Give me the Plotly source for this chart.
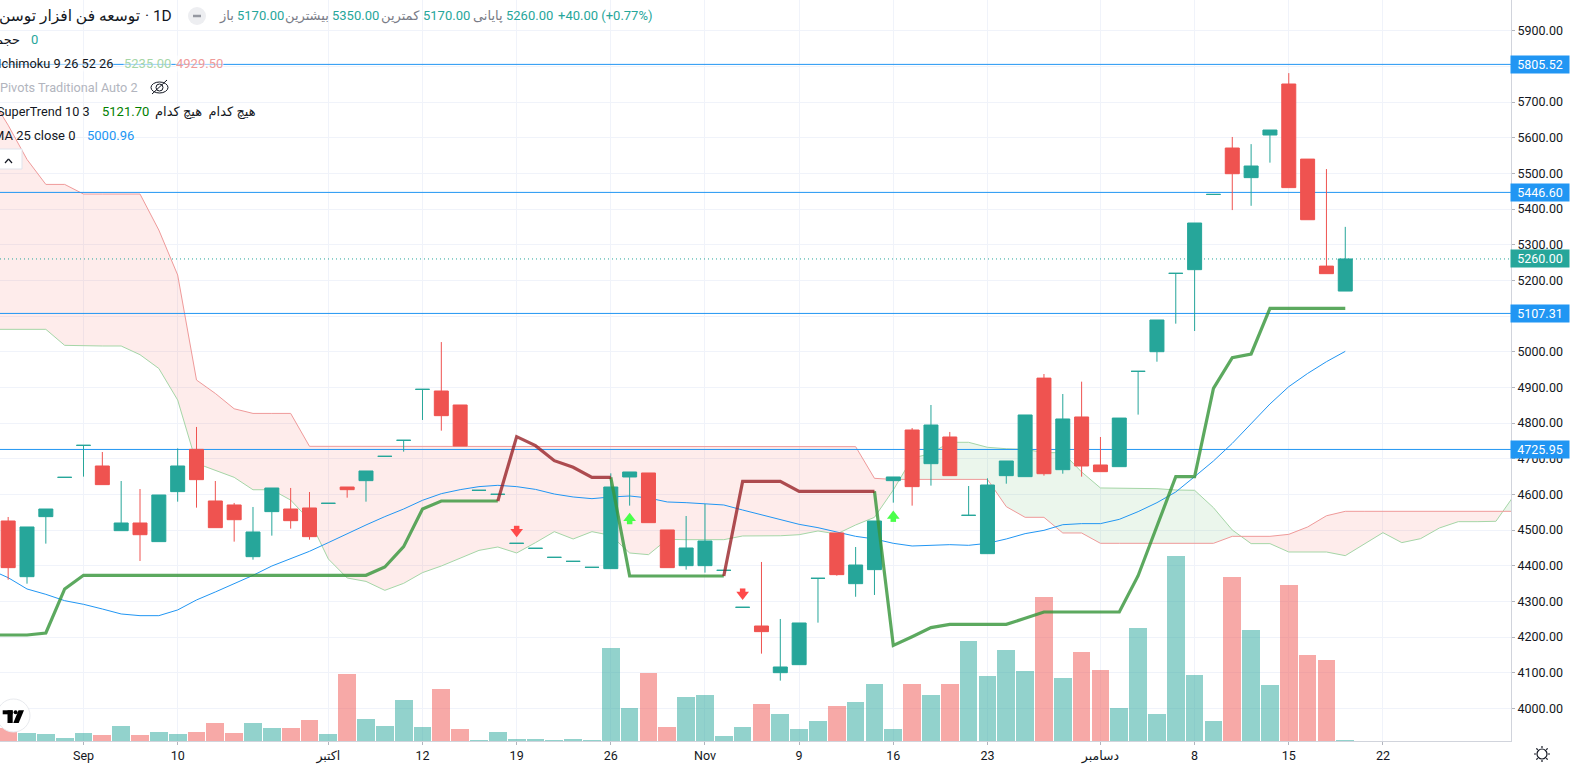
import plotly.graph_objects as go
import math

W, H = 1511, 741
FONT = "Roboto, 'Noto Sans', 'DejaVu Sans', sans-serif"
TEAL, RED, BLUE = "#26A69A", "#EF5350", "#2196F3"

# ---------- data ----------
first_bar = -4
opens = [4525.4,4369.3,4537.6,4647.7,4737.4,4679.6,4498.3,4519.8,4467.5,4607.7,4726.3,4581.5,4570.3,4425.4,4551.6,4559,4561.9,4574.9,4620.7,4638.5,4706.6,4751.5,4894.4,4889.8,4850.6,4611.3,4600.1,4462.7,4448.7,4423.4,4412.2,4395.4,4391.8,4648.8,4660,4500.2,4400.2,4400.2,4387,4283.3,4231,4100.2,4122.6,4364.6,4491.8,4349.7,4389,4638.5,4780.5,4686.1,4760.9,4541.2,4433.8,4652.5,4649.7,4926,4669.3,4817,4682.4,4677.7,4944.9,5000,5219.6,5230,5440.9,5571,5488,5607.5,5750.5,5540,5240,5170]
highs = [4536.6,4508.6,4559,4647.8,4737.5,4718.8,4637.5,4615,4598.3,4729,4789,4637.5,4576,4564.7,4617.9,4618,4606.7,4575,4620.7,4665.6,4706.7,4751.6,4894.5,5027,4850.6,4611.4,4600.2,4462.8,4448.8,4423.5,4412.3,4395.5,4659,4662.8,4660,4500.2,4539.4,4573,4387.1,4283.4,4410.5,4250.7,4239.5,4364.7,4491.8,4452.5,4525.4,4648.8,4786,4850.6,4775,4623.5,4645,4693.6,4822.6,4937.5,4881.4,4916,4760.9,4814,4945,5088.9,5219.7,5360.8,5441,5602,5582,5621.5,5781,5540,5512,5350]
lows = [4360.9,4349.7,4461.9,4647.7,4649.7,4627.3,4498.3,4413.3,4467.5,4579.6,4562.8,4506.7,4467.5,4417,4484.3,4504,4473,4574.9,4590.8,4579.6,4706.6,4719.8,4808.6,4778.6,4735.7,4611.3,4600.1,4462.7,4448.7,4423.4,4412.2,4395.4,4391.8,4568.4,4520.7,4394.6,4389,4380.6,4387,4283.3,4153.5,4077.8,4122.6,4240.4,4372,4313,4318,4576.8,4568.4,4624.5,4652.5,4541.2,4433.8,4630,4649.7,4652.5,4658,4649.7,4663.7,4677.7,4823.6,4972,5078.6,5058,5440.9,5397,5409,5530,5460,5370,5218.8,5170]
closes = [4394.6,4508.6,4559,4647.8,4737.5,4627.3,4519.8,4487,4598.3,4679.6,4641.3,4506.7,4529,4494.6,4617.9,4526.3,4481.5,4575,4613.2,4665.6,4706.7,4751.6,4894.5,4820.7,4735.7,4611.4,4600.2,4462.8,4448.8,4423.5,4412.3,4395.5,4620.7,4662.8,4520.7,4394.6,4449.7,4469.3,4387.1,4283.4,4215.2,4116.1,4239.5,4364.7,4375,4402,4525.4,4648.8,4621.7,4794.5,4652.5,4541.3,4626.3,4693.6,4822.6,4658,4811.4,4679.6,4663.7,4814,4945,5088.9,5219.7,5360.8,5441,5499,5520.6,5621.5,5460,5370,5218.8,5260]
volume = [12.7,8,7,3,8,6,15,6,9,7,9,18,8,18,13,13,21,7,67,22,15,41,14,52,12,1,9,2,2,1,2,1,93,33,68,14,44,46,5,14,37,27,12,20,35,39,57,12,57,46,57,100,65,91,70,144,63,89,71,33,113,27,185,66,20,164,111,56,156,86,81,1]

cloud_first = -5
lead_a = [5062.7,5062.7,5062.7,5062.7,5017.8,5016,5016,5016,4991.6,4953,4864.5,4687,4666.5,4647.8,4613,4613,4584,4528,4419,4365.6,4356,4331,4350.6,4380.6,4399.2,4421.7,4443,4452.5,4435.7,4464.7,4495.5,4475,4495.5,4485,4435.7,4431,4474,4473,4473,4473,4483.4,4483.4,4484,4487,4497.4,4489,4514.2,4535.7,4612.3,4701,4715,4746,4746,4732,4728,4726.3,4717,4717,4662.8,4618,4618,4618,4616,4612.3,4611.4,4562.8,4500.2,4461.9,4461.9,4438.5,4438.5,4438.5,4428.2,4460,4492.7,4464.7,4475.9,4505.8,4523.5,4523.5,4524.5,4600]
lead_b = [5720,5635,5539,5469,5469,5442,5442,5442,5442,5341,5215,4920.6,4883,4840,4827,4827,4827]+[4734.7]*29+[4733.8,4645]+[4642]*6+[4565.6,4535.7,4535.7,4491.8,4491.8]+[4462.8]*7+[4482.4,4482.4,4482.4,4488,4508.6,4540]+[4552.5]*10
ma_first = -5
sma25 = [4390,4366.5,4334.8,4319.8,4302,4291.8,4278.7,4264.7,4260,4260,4276,4304,4326.4,4349.7,4373,4399.2,4418.9,4440.4,4464.7,4489.9,4514.2,4537.6,4559,4583.4,4602,4613.2,4621.7,4625.4,4621.7,4614,4601,4592.7,4588,4592.7,4595.5,4589.9,4578.7,4576.8,4574,4570.3,4556.2,4542.2,4529.1,4516,4506.7,4494.6,4482.4,4475,4462.8,4455.3,4458.1,4459,4457.2,4462.8,4475,4489.9,4499.2,4515,4518,4518,4530,4551.6,4576.8,4606.7,4649.7,4693.6,4743,4799.2,4853.4,4902,4939,4972,5001]
supertrend = [4205.8,4205.8,4205.8,4211.4,4334.8]+[4373.1]*16+[4396.5,4453.5,4559,4581.5,4581.5,4581.5,4581.5,4761.8,4736.6,4694.5,4675.9,4647.8,4647.8]+[4371.2]*6+[4636.6]*3+[4608.6]*5+[4176.8,4201,4226.4,4235.7,4235.7,4235.7,4235.7,4252.5]+[4270.3]*5+[4372,4509,4649.7,4649.7,4897,4983,4993.6]+[5121.7]*5
st_up_spans = [(-5,22),(28,34),(42,67)]
st_down_spans = [(22,28),(34,42)]
sell_bars, sell_prices = [23,35],[4500.2,4324.5]
buy_bars, buy_prices = [29,43],[4530,4536.6]
levels = [5805.52,5446.60,5107.31,4725.95]
last_price = 5260.00
tick_bars = [0,5,13,18,23,28,33,38,43,48,54,59,64,69]
tick_text = ["Sep","10","اکتبر","12","19","26","Nov","9","16","23","دسامبر","8","15","22"]

bars = list(range(first_bar, first_bar+len(opens)))
cloud_bars = list(range(cloud_first, cloud_first+len(lead_a)))
ma_bars = list(range(ma_first, ma_first+len(sma25)))
X0, X1 = -4.434, 75.80

def cloud_polys():
    rx, ry, gx, gy = [], [], [], []
    for i in range(len(cloud_bars)-1):
        x0, x1 = cloud_bars[i], cloud_bars[i+1]
        a0, a1, b0, b1 = lead_a[i], lead_a[i+1], lead_b[i], lead_b[i+1]
        d0, d1 = a0-b0, a1-b1
        if d0*d1 >= 0:
            tx, ty = (gx, gy) if d0+d1 > 0 else (rx, ry)
            tx += [x0,x1,x1,x0,x0,None]; ty += [a0,a1,b1,b0,a0,None]
        else:
            t = d0/(d0-d1); xc = x0+t*(x1-x0); yc = a0+t*(a1-a0)
            t1x, t1y = (gx, gy) if d0 > 0 else (rx, ry)
            t2x, t2y = (rx, ry) if d0 > 0 else (gx, gy)
            t1x += [x0,xc,x0,x0,None]; t1y += [a0,yc,b0,a0,None]
            t2x += [xc,x1,x1,xc,None]; t2y += [yc,a1,b1,yc,None]
    return rx, ry, gx, gy
rx, ry, gx, gy = cloud_polys()

fig = go.Figure()
sc = dict(mode="lines", hoverinfo="skip", showlegend=False)
# base layer: cloud, MA, levels
fig.add_trace(go.Scatter(x=rx, y=ry, fill="toself", fillcolor="rgba(244,67,54,0.10)", line=dict(width=0), **sc))
fig.add_trace(go.Scatter(x=gx, y=gy, fill="toself", fillcolor="rgba(76,175,80,0.11)", line=dict(width=0), **sc))
fig.add_trace(go.Scatter(x=cloud_bars, y=lead_a, line=dict(color="#A5D6A7", width=1), **sc))
fig.add_trace(go.Scatter(x=cloud_bars, y=lead_b, line=dict(color="#EF9A9A", width=1), **sc))
fig.add_trace(go.Scatter(x=ma_bars, y=sma25, line=dict(color=BLUE, width=1), **sc))
for lv in levels:
    fig.add_trace(go.Scatter(x=[X0,X1], y=[lv,lv], line=dict(color=BLUE, width=1), **sc))
fig.add_trace(go.Scatter(x=[X0,X1], y=[last_price]*2, line=dict(color=TEAL, width=1, dash="1px 3px"), **sc))
# volume
fig.add_trace(go.Bar(x=bars, y=volume, yaxis="y2", width=0.94, hoverinfo="skip", showlegend=False,
    marker=dict(line=dict(width=0), color=["rgba(38,166,154,0.5)" if c>=o else "rgba(239,83,80,0.5)" for o,c in zip(opens,closes)])))
# candles
fig.add_trace(go.Candlestick(x=bars, open=opens, high=highs, low=lows, close=closes, yaxis="y3", whiskerwidth=0,
    increasing=dict(line=dict(color=TEAL, width=1), fillcolor=TEAL),
    decreasing=dict(line=dict(color=RED, width=1), fillcolor=RED), hoverinfo="skip", showlegend=False))
# supertrend on top
def seg(spans):
    xs, ys = [], []
    for a, b in spans:
        xs += list(range(a, b+1))+[None]
        ys += supertrend[a+5:b+6]+[None]
    return xs, ys
ux, uy = seg(st_up_spans); dx, dy = seg(st_down_spans)
fig.add_trace(go.Scatter(x=ux, y=uy, yaxis="y4", line=dict(color="rgba(56,150,60,0.82)", width=3.2), **sc))
fig.add_trace(go.Scatter(x=dx, y=dy, yaxis="y4", line=dict(color="rgba(150,30,35,0.78)", width=3.2), **sc))
mk = dict(mode="markers", yaxis="y4", hoverinfo="skip", showlegend=False)
fig.add_trace(go.Scatter(x=sell_bars, y=[p+4 for p in sell_prices], marker=dict(symbol="square", size=5.5, color="#FF4A4A", line_width=0), **mk))
fig.add_trace(go.Scatter(x=sell_bars, y=[p-5 for p in sell_prices], marker=dict(symbol="triangle-down", size=11, color="#FF4A4A", line_width=0), **mk))
fig.add_trace(go.Scatter(x=buy_bars, y=[p-6 for p in buy_prices], marker=dict(symbol="square", size=5.5, color="#4AFF4A", line_width=0), **mk))
fig.add_trace(go.Scatter(x=buy_bars, y=[p+3 for p in buy_prices], marker=dict(symbol="triangle-up", size=11, color="#4AFF4A", line_width=0), **mk))

# ---------- text ----------
anns, shapes = [], []
def px(x): return x/W
def py(y): return 1-y/H
def note(text, x, y, color="#131722", size=13, anchor="left", **kw):
    anns.append(dict(xref="paper", yref="paper", x=px(x), y=py(y), xanchor=anchor, yanchor="middle", showarrow=False,
                     text=text, font=dict(family=FONT, size=size, color=color), borderpad=0, **kw))
G = "#26A69A"; GR = "#787B86"
note("توسعه فن افزار توسن", 141, 16, size=15.5, anchor="right")
note("· 1D", 144, 16, size=15.5)
note("باز", 235, 16, GR, anchor="right"); note("5170.00", 236, 16, G)
note("بیشترین", 330, 16, GR, anchor="right"); note("5350.00", 331, 16, G)
note("کمترین", 421, 16, GR, anchor="right"); note("5170.00", 422, 16, G)
note("پایانی", 504, 16, GR, anchor="right"); note("5260.00", 505, 16, G)
note("+40.00 (+0.77%)", 557, 16, G)
note("حجم", 21, 40, anchor="right"); note("0", 30, 40, G)
wb = "rgba(255,255,255,0.55)"
note("Ichimoku 9 26 52 26", 114, 63, anchor="right", bgcolor=wb, size=12.8)
note("5235.00", 123, 63, "#A5D6A7", bgcolor=wb); note("4929.50", 175, 63, "#EF9A9A", bgcolor=wb)
note("Pivots Traditional Auto 2", 139, 87, "#B2B5BE", anchor="right", size=12.7)
note("SuperTrend 10 3", 91, 112, anchor="right", size=12.7)
note("5121.70", 101, 112, "#008000"); note("هیچ کدام  هیچ کدام", 257, 112, anchor="right")
note("MA 25 close 0", 77, 135, anchor="right"); note("5000.96", 86, 135, BLUE)

def label(text, price, bg):
    anns.append(dict(xref="paper", yref="y", x=(1511+28.5)/W, y=price, xanchor="center", yanchor="middle", showarrow=False,
                     text=text, bgcolor=bg, width=58, height=17, borderpad=0,
                     font=dict(family=FONT, size=12.5, color="#FFFFFF")))
for lv in levels: label(f"{lv:.2f}", lv, BLUE)
label(f"{last_price:.2f}", last_price, TEAL)

def sh(kind, x0, y0, x1, y1, **kw):
    shapes.append(dict(type=kind, xref="paper", yref="paper", x0=px(x0), y0=py(y0), x1=px(x1), y1=py(y1), layer="above", **kw))
# header pill, hidden-eye icon, collapse button
sh("circle", 188, 7, 206, 25, fillcolor="#EDEEF1", line_width=0)
sh("line", 193, 16, 201, 16, line=dict(color="#9598A1", width=2.5))
sh("circle", 151, 82, 168, 93, line=dict(color="#131722", width=1))
sh("circle", 156, 84, 163, 91, line=dict(color="#131722", width=1))
sh("line", 152, 94, 167, 80, line=dict(color="#131722", width=1))
sh("rect", -3, 149, 22, 169, fillcolor="#FFFFFF", line=dict(color="#E0E3EB", width=1))
sh("line", 5, 163, 8.5, 159, line=dict(color="#131722", width=1.2))
sh("line", 8.5, 159, 12, 163, line=dict(color="#131722", width=1.2))
# logo
sh("circle", -3, 699, 30, 732, fillcolor="#FFFFFF", line=dict(color="#E8EAEE", width=1))
sh("rect", 2.7, 710.3, 12.7, 714.3, fillcolor="#000000", line_width=0)
sh("rect", 7.5, 710.3, 12.7, 723, fillcolor="#000000", line_width=0)
sh("circle", 13.6, 710.3, 17.6, 714.3, fillcolor="#000000", line_width=0)
shapes.append(dict(type="path", xref="paper", yref="paper", layer="above", fillcolor="#000000", line_width=0,
    path="M %f %f L %f %f L %f %f L %f %f Z" % (px(18.5),py(710.3),px(24),py(710.3),px(18.7),py(723),px(13.3),py(723))))
# settings icon
sh("circle", 1537, 749, 1547, 759, line=dict(color="#131722", width=1.2))
for k in range(8):
    a = k*math.pi/4
    sh("line", 1542+6*math.cos(a), 754+6*math.sin(a), 1542+8*math.cos(a), 754+8*math.sin(a), line=dict(color="#131722", width=1.2))

ticks = dict(ticks="outside", ticklen=3, tickcolor="#B2B5BE", tickwidth=1)
hidden_p = dict(overlaying="y", range=[3908.6, 5986], visible=False, fixedrange=True)
fig.update_layout(
    width=1573, height=767, margin=dict(l=0, r=62, t=0, b=26, pad=0),
    paper_bgcolor="#FFFFFF", plot_bgcolor="#FFFFFF", showlegend=False,
    boxgap=0.257, boxgroupgap=0, bargap=0,
    font=dict(family=FONT, size=12, color="#131722"),
    xaxis=dict(range=[X0, X1], tickmode="array", tickvals=tick_bars, ticktext=tick_text, rangeslider=dict(visible=False),
               showgrid=True, gridcolor="#F0F3FA", gridwidth=1, zeroline=False, showline=True, linecolor="#D1D4DC", linewidth=1,
               tickfont=dict(size=12.5, family=FONT, color="#131722"), **ticks),
    yaxis=dict(range=[3908.6, 5986], side="right", tick0=0, dtick=100, tickformat=".2f", showgrid=True, gridcolor="#F0F3FA", gridwidth=1,
               zeroline=False, showline=True, linecolor="#D1D4DC", linewidth=1, tickfont=dict(size=12.5, family=FONT, color="#131722"), **ticks),
    yaxis2=dict(overlaying="y", range=[0, 741], visible=False),
    yaxis3=hidden_p, yaxis4=hidden_p,
    annotations=anns, shapes=shapes,
)
fig.write_html("out.html", config=dict(displayModeBar=False),
               post_script="document.body.style.margin='0';document.body.style.overflow='hidden';")
